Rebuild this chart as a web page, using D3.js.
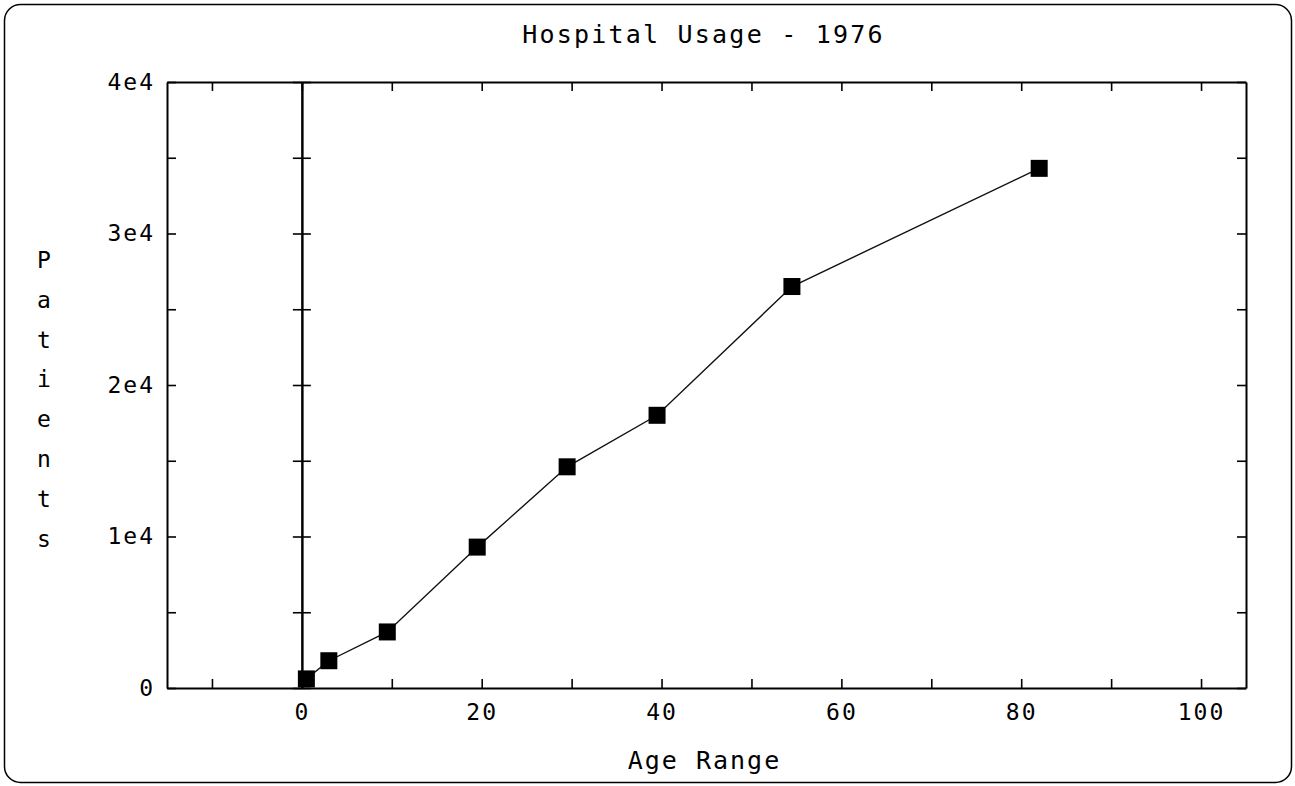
<!DOCTYPE html>
<html lang="en">
<head>
    <meta charset="UTF-8">
    <title>Hospital Usage - 1976</title>
    <script src="https://cdn.jsdelivr.net/npm/d3@7/dist/d3.min.js"></script>
    <style>
        body { margin: 0; background: #fff; }
        text { font-family: "DejaVu Sans Mono", monospace; fill: #000; }
    </style>
</head>
<body>
<script>
    // data
    var ages = [0.5, 3, 9.5, 19.5, 29.5, 39.5, 54.5, 82];
    var patients = [600, 1800, 3700, 9300, 14600, 18000, 26500, 34300];
    var xTickValues = [-10, 0, 10, 20, 30, 40, 50, 60, 70, 80, 90, 100];
    var xTickLabels = ["", "0", "", "20", "", "40", "", "60", "", "80", "", "100"];
    var yTickValues = [0, 5000, 10000, 15000, 20000, 25000, 30000, 35000, 40000];
    var yTickLabels = ["0", "", "1e4", "", "2e4", "", "3e4", "", "4e4"];
    var title = "Hospital Usage - 1976";
    var xTitle = "Age Range";
    var yTitle = "Patients";

    function drawChart() {
        var w = 1295, h = 786;
        var pLeft = 167, pRight = 1246, pTop = 82, pBottom = 688;

        var svg = d3.select("body").append("svg")
            .attr("width", w)
            .attr("height", h);

        // rounded window frame
        svg.append("rect")
            .attr("x", 4.5).attr("y", 4.5)
            .attr("width", w - 8).attr("height", h - 8)
            .attr("rx", 16).attr("ry", 16)
            .attr("fill", "none")
            .attr("stroke", "#000")
            .attr("stroke-width", 1.5);

        var xScale = d3.scaleLinear().domain([-15, 105]).range([pLeft, pRight]);
        var yScale = d3.scaleLinear().domain([0, 40000]).range([pBottom, pTop]);

        function styleAxis(g) {
            g.select(".domain").attr("stroke", "#000").attr("stroke-width", 2);
            g.selectAll(".tick line").attr("stroke", "#000").attr("stroke-width", 1.6);
            g.selectAll(".tick text")
                .style("font-family", "'DejaVu Sans Mono', monospace")
                .style("font-size", "23px")
                .style("letter-spacing", "2px")
                .attr("fill", "#000");
        }

        // bottom
        svg.append("g")
            .attr("transform", "translate(0," + pBottom + ")")
            .call(d3.axisBottom(xScale).tickValues(xTickValues)
                .tickSizeInner(-9).tickSizeOuter(0).tickPadding(16)
                .tickFormat(function (d, i) { return xTickLabels[i]; }))
            .call(styleAxis);
        // top
        svg.append("g")
            .attr("transform", "translate(0," + pTop + ")")
            .call(d3.axisTop(xScale).tickValues(xTickValues)
                .tickSizeInner(-9).tickSizeOuter(0).tickFormat(""))
            .call(styleAxis);
        // left
        svg.append("g")
            .attr("transform", "translate(" + pLeft + ",0)")
            .call(d3.axisLeft(yScale).tickValues(yTickValues)
                .tickSizeInner(-9).tickSizeOuter(0).tickPadding(12)
                .tickFormat(function (d, i) { return yTickLabels[i]; }))
            .call(styleAxis);
        // right
        svg.append("g")
            .attr("transform", "translate(" + pRight + ",0)")
            .call(d3.axisRight(yScale).tickValues(yTickValues)
                .tickSizeInner(-9).tickSizeOuter(0).tickFormat(""))
            .call(styleAxis);
        // zero line with crossing ticks
        svg.append("g")
            .attr("transform", "translate(" + xScale(0) + ",0)")
            .call(d3.axisLeft(yScale).tickValues(yTickValues)
                .tickSizeInner(9).tickSizeOuter(0).tickFormat(""))
            .call(styleAxis);
        svg.append("g")
            .attr("transform", "translate(" + xScale(0) + ",0)")
            .call(d3.axisRight(yScale).tickValues(yTickValues)
                .tickSizeInner(9).tickSizeOuter(0).tickFormat(""))
            .call(styleAxis);

        var points = ages.map(function (a, i) { return [a, patients[i]]; });

        var line = d3.line()
            .x(function (d) { return xScale(d[0]); })
            .y(function (d) { return yScale(d[1]); });

        svg.append("path")
            .datum(points)
            .attr("d", line)
            .attr("fill", "none")
            .attr("stroke", "#111")
            .attr("stroke-width", 1.4);

        var size = 17;
        svg.selectAll("rect.pt")
            .data(points)
            .enter()
            .append("rect")
            .attr("class", "pt")
            .attr("x", function (d) { return xScale(d[0]) - size / 2; })
            .attr("y", function (d) { return yScale(d[1]) - size / 2; })
            .attr("width", size)
            .attr("height", size)
            .attr("fill", "#000");

        // titles
        svg.append("text")
            .attr("x", (pLeft + pRight) / 2 - 3)
            .attr("y", 43)
            .attr("text-anchor", "middle")
            .style("font-size", "25px")
            .style("letter-spacing", "2.2px")
            .text(title);

        svg.append("text")
            .attr("x", (pLeft + pRight) / 2 - 2)
            .attr("y", 769)
            .attr("text-anchor", "middle")
            .style("font-size", "25px")
            .style("letter-spacing", "2px")
            .text(xTitle);

        svg.append("g")
            .selectAll("text")
            .data(yTitle.split(""))
            .enter()
            .append("text")
            .attr("x", 44)
            .attr("y", function (d, i) { return 268 + i * 39.8; })
            .attr("text-anchor", "middle")
            .style("font-size", "23px")
            .text(function (d) { return d; });
    }
    drawChart();
</script>
</body>
</html>
